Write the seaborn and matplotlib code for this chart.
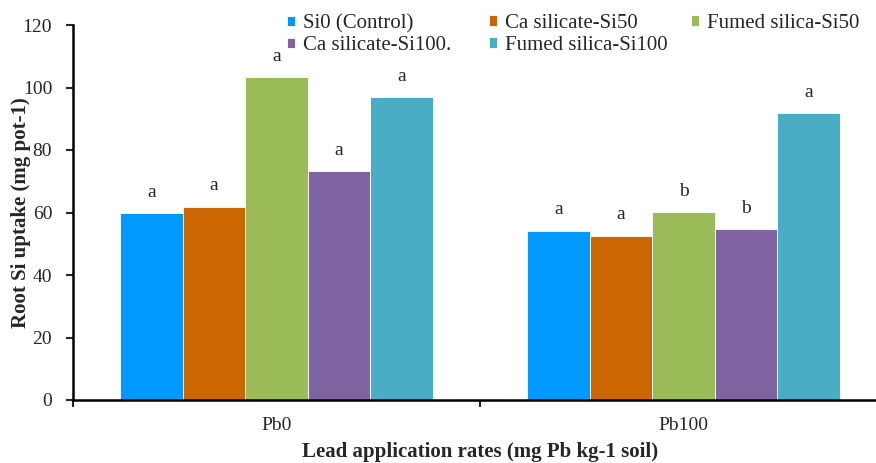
import numpy as np
import pandas as pd
import matplotlib
matplotlib.use('Agg')
import matplotlib.pyplot as plt
import seaborn as sns

# data
rates = ['Pb0', 'Pb100']
treatments = ['Si0 (Control)', 'Ca silicate-Si50', 'Fumed silica-Si50',
              'Ca silicate-Si100.', 'Fumed silica-Si100']
pb0_values = [59.7, 61.8, 103.3, 73.2, 96.9]
pb100_values = [54.1, 52.6, 60.1, 54.6, 91.8]
pb0_letters = ['a', 'a', 'a', 'a', 'a']
pb100_letters = ['a', 'a', 'b', 'b', 'a']
colors = ['#0099FF', '#CC6600', '#9BBB59', '#8064A2', '#4BACC6']

df = pd.DataFrame({
    'rate': np.repeat(rates, len(treatments)),
    'treatment': treatments * len(rates),
    'value': pb0_values + pb100_values,
    'letter': pb0_letters + pb100_letters,
})

sns.set_style('white')
plt.rcParams['font.family'] = ['Liberation Serif', 'DejaVu Serif']

fig = plt.figure(figsize=(8.76, 4.63), dpi=100)
# axes runs a bit past the right edge, like the reference crop
ax = fig.add_axes([73 / 876, 63 / 463, 814 / 876, 375 / 463])

sns.barplot(data=df, x='rate', y='value', hue='treatment', hue_order=treatments,
            palette=colors, width=0.768, gap=0, edgecolor='white', linewidth=0.6,
            saturation=1, ax=ax)

# significance letters above each bar
for container, tr in zip(ax.containers, treatments):
    for bar, rate in zip(container, rates):
        letter = df[(df.rate == rate) & (df.treatment == tr)].letter.iloc[0]
        ax.annotate(letter, (bar.get_x() + bar.get_width() / 2, bar.get_height()),
                    xytext=(0, 9), textcoords='offset points', ha='center', va='bottom',
                    fontsize=14)

ax.set_ylim(0, 120)
ax.set_yticks(range(0, 121, 20))
ax.set_xlim(-0.5, 1.5)
# tick marks between groups, labels at group centres
ax.set_xticks([-0.5, 0.5, 1.5])
ax.set_xticklabels([])
ax.set_xticks([0, 1], minor=True)
ax.set_xticklabels(rates, minor=True)
ax.tick_params(axis='x', which='major', direction='out', length=5, width=1.5, bottom=True)
ax.tick_params(axis='x', which='minor', length=0, pad=12, labelsize=14)
ax.tick_params(axis='y', direction='out', length=5, width=1.5, left=True, pad=10, labelsize=14)

sns.despine(ax=ax)
for side in ['left', 'bottom']:
    ax.spines[side].set_linewidth(1.8)
    ax.spines[side].set_color('black')

ax.set_xlabel('Lead application rates (mg Pb kg-1 soil)', fontsize=15, fontweight='bold')
ax.set_ylabel('Root Si uptake (mg pot-1)', fontsize=15, fontweight='bold')
ax.xaxis.set_label_coords(0.5, -0.112)
ax.yaxis.set_label_coords(-0.052, 0.5)

# legend: three equal-width columns, filled row by row
handles, labels = ax.get_legend_handles_labels()
ax.get_legend().remove()
columns = [[0, 3], [1, 4], [2]]
col_x = [287, 489, 691]
for idx, x in zip(columns, col_x):
    fig.legend([handles[i] for i in idx], [labels[i] for i in idx],
               loc='upper left', bbox_to_anchor=(x / 876, 1 - 14 / 463),
               frameon=False, fontsize=15,
               handlelength=0.4, handleheight=0.4, handletextpad=0.35,
               labelspacing=0.15, borderpad=0, borderaxespad=0)

fig.savefig('out.png', dpi=100)
